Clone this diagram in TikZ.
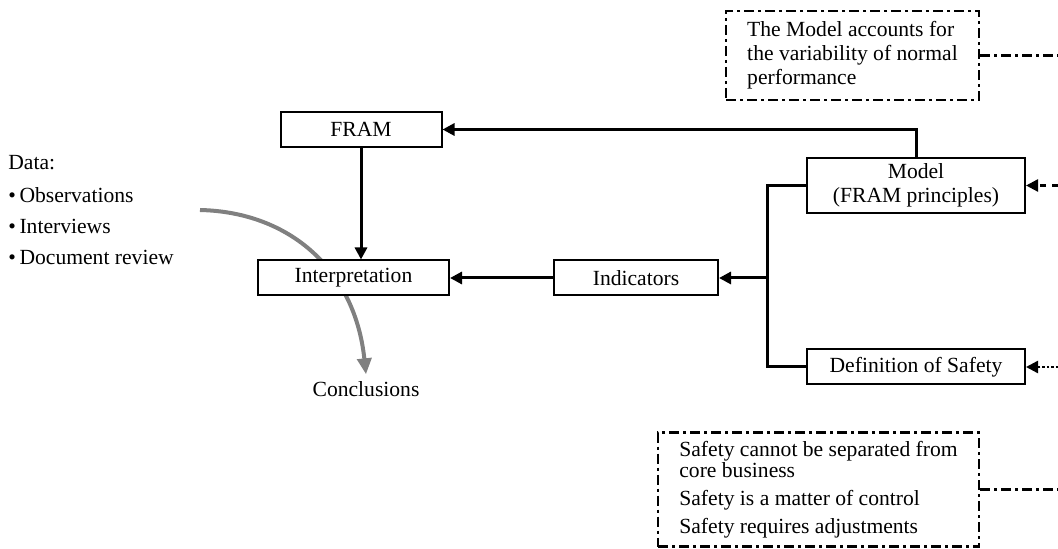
\documentclass[tikz,border=0pt]{standalone}
\usepackage{fontspec}
\setmainfont{Liberation Serif}
\usetikzlibrary{arrows.meta}
\usetikzlibrary{positioning}
\usetikzlibrary{backgrounds}

\tikzset{
    box/.style={draw, line width=1pt, minimum height=17.5pt, inner sep=2pt, align=center, fill=white},
    note/.style={draw, line width=1.4pt, dash pattern=on 5pt off 2pt on 1.5pt off 2pt, align=left, inner sep=5pt},
    conn/.style={line width=1.5pt, -{Triangle[length=6pt,width=6pt]}},
    link/.style={line width=1.5pt},
    noteline/.style={line width=1.2pt, dash pattern=on 5pt off 2pt on 1.5pt off 2pt},
}

\begin{document}
\begin{tikzpicture}[x=0.5pt, y=-0.5pt, font=\fontsize{10.8}{12}\selectfont]
    \useasboundingbox (0,0) rectangle (1058,549);

    % Boxes
    \node[box, minimum width=80.5pt] (fram) at (361,129.5) {FRAM};
    \node[box, minimum width=95.5pt] (interp) at (353.5,278) {Interpretation};
    \node[box, minimum width=82pt] (ind) at (636,278) {Indicators};
    \node[box, minimum width=109pt, minimum height=27.5pt, inner sep=1pt] (model) at (916,185.5) {Model\\(FRAM principles)};
    \node[box, minimum width=109pt] (safety) at (916,367) {Definition of Safety};

    % Notes
    \node[note, minimum width=126.5pt, minimum height=44.5pt] (topnote) at (852.5,55.5)
        {The Model accounts for\\the variability of normal\\performance};
    \node[note, minimum width=160.5pt, minimum height=57pt, inner ysep=2pt, font=\fontsize{10.8}{10.5}\selectfont] (botnote) at (818.5,489.5)
        {Safety cannot be separated from\\core business\\[3.5pt]Safety is a matter of control\\[3.5pt]Safety requires adjustments};

    % Data and conclusions
    \node[anchor=west, inner sep=0pt] (data) at (8,163) {Data:};
    \node[anchor=west, inner sep=0pt] (obs) at (8,195) {\textbullet\,Observations};
    \node[anchor=west, inner sep=0pt] (intv) at (8,226) {\textbullet\,Interviews};
    \node[anchor=west, inner sep=0pt] (docs) at (8,257) {\textbullet\,Document review};
    \node (concl) at (366,389) {Conclusions};

    % Bus
    \coordinate (bustop) at (767,185.5);
    \coordinate (busbot) at (767,367);
    \coordinate (busmid) at (767,278);
    \draw[link] (model.west) -- (bustop) -- (busbot) -- (safety.west);
    \draw[conn] (busmid) -- (ind.east);
    \draw[conn] (ind.west) -- (interp.east);
    \draw[conn] (model.north) |- (fram.east);
    \draw[conn] (fram.south) -- (fram.south |- interp.north);

    % Gray flow
    \coordinate (flowstart) at (200,210);
    \begin{scope}[on background layer]
        \draw[line width=2pt, gray, -{Triangle[length=8pt,width=7pt]}]
            (flowstart) .. controls (290,212) and (355,270) .. (concl.north);
    \end{scope}

    % Outer links
    \coordinate (topout) at (1058,55.5);
    \coordinate (botout) at (1058,489.5);
    \coordinate (modelin) at (1058,185.5);
    \coordinate (safetyin) at (1058,367);
    \draw[noteline] (topnote.east) -- (topout);
    \draw[noteline] (botnote.east) -- (botout);
    \draw[line width=1.2pt, dashed, -{Triangle[length=6pt,width=6pt]}] (modelin) -- (model.east);
    \draw[line width=1.2pt, densely dotted, -{Triangle[length=6pt,width=6pt]}] (safetyin) -- (safety.east);
\end{tikzpicture}
\end{document}
